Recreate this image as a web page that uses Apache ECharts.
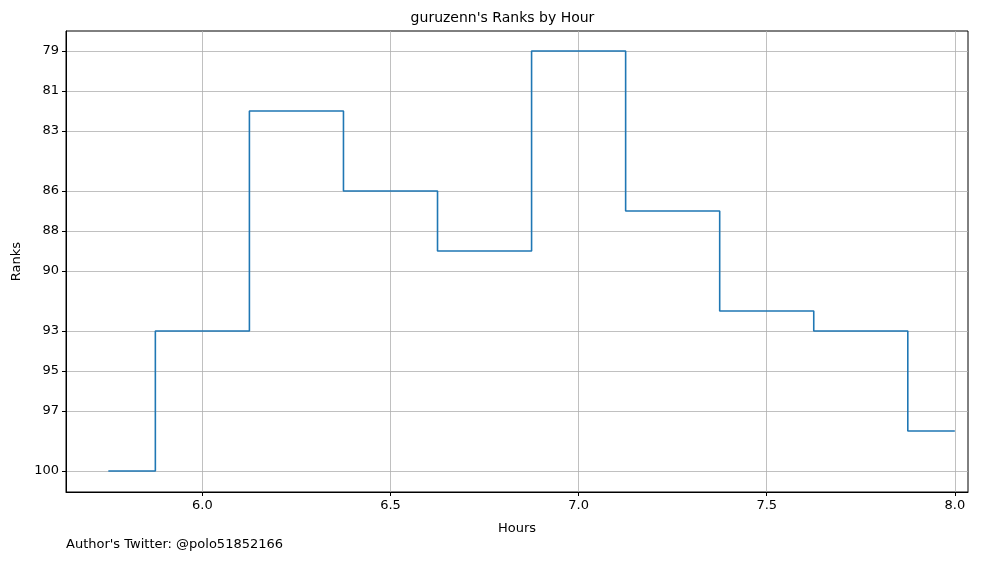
<!DOCTYPE html>
<html>
<head>
<meta charset="utf-8">
<script src="https://cdn.jsdelivr.net/npm/echarts@6/dist/echarts.min.js"></script>
<style>html,body{margin:0;padding:0;background:#fff}#main{width:1005px;height:562px}</style>
</head>
<body>
<div id="main"></div>
<script>
// 每小时排名
var hours = [5.75, 6.0, 6.25, 6.5, 6.75, 7.0, 7.25, 7.5, 7.75, 8.0];
var ranks = [100, 93, 82, 86, 89, 79, 87, 92, 93, 98];
var rankTicks = [79, 81, 83, 86, 88, 90, 93, 95, 97, 100];
var hourTicks = [6.0, 6.5, 7.0, 7.5, 8.0];

var points = [];
for (let i = 0; i < hours.length; i++) {
    points.push([hours[i], ranks[i]]);
}

var chart = echarts.init(document.getElementById("main"));
var gridLine = { show: true, lineStyle: { color: "#b0b0b0", width: 0.8 } };
var option = {
    animation: false,
    textStyle: { fontFamily: "DejaVu Sans" },
    title: {
        text: "guruzenn's Ranks by Hour",
        left: "center",
        top: 6,
        textStyle: { fontSize: 14, fontWeight: "normal", color: "#000" },
    },
    graphic: [{
        type: "text", left: 66, top: 538,
        style: { text: "Author's Twitter: @polo51852166", fontSize: 13, fill: "#000", fontFamily: "DejaVu Sans" },
    }],
    grid: { left: 66, right: 37, top: 31, bottom: 70, show: true, borderColor: "#000", borderWidth: 1 },
    xAxis: {
        type: "value", min: 5.6375, max: 8.035,
        name: "Hours", nameLocation: "middle", nameGap: 30,
        nameTextStyle: { color: "#000", fontSize: 13 },
        axisLine: { show: true, onZero: false, lineStyle: { color: "#000" } },
        axisTick: { show: true, length: 4, customValues: hourTicks, lineStyle: { color: "#000" } },
        axisLabel: { customValues: hourTicks, color: "#000", fontSize: 13, margin: 7,
            formatter: function (v) { return v.toFixed(1); } },
        splitLine: gridLine,
    },
    yAxis: {
        type: "value", inverse: true, min: 78, max: 101.05,
        name: "Ranks", nameLocation: "middle", nameGap: 42,
        nameTextStyle: { color: "#000", fontSize: 13 },
        axisLine: { show: true, onZero: false, lineStyle: { color: "#000" } },
        axisTick: { show: true, length: 4, customValues: rankTicks, lineStyle: { color: "#000" } },
        axisLabel: { customValues: rankTicks, color: "#000", fontSize: 13, margin: 7 },
        splitLine: gridLine,
    },
    series: [{
        type: "line", step: "middle", data: points, symbol: "none",
        lineStyle: { color: "#1f77b4", width: 1.6 },
    }],
};
chart.setOption(option);
</script>
</body>
</html>
